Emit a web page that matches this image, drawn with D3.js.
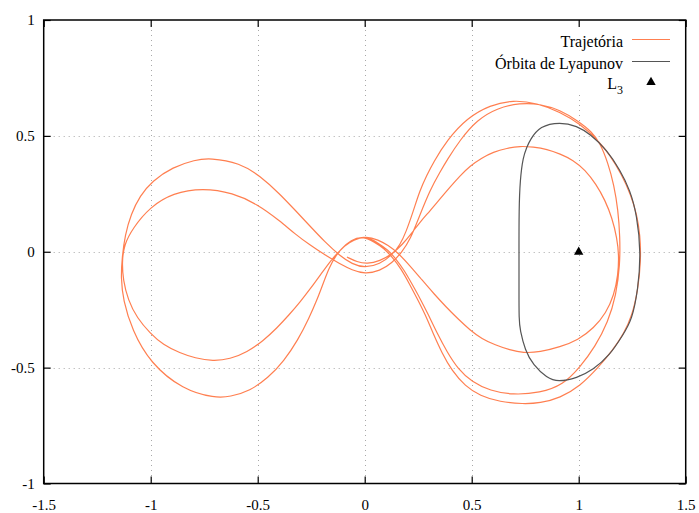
<!DOCTYPE html>
<html>
<head>
<meta charset="utf-8">
<script src="https://cdn.jsdelivr.net/npm/d3@7"></script>
<style>
  html, body { margin: 0; padding: 0; background: #fff; }
  svg { display: block; }
  text { font-family: "Liberation Serif", "DejaVu Serif", serif; fill: #000; }
</style>
</head>
<body>
<svg id="chart" width="699" height="513"></svg>
<script>
// Axis ticks
const xTicks = [-1.5, -1, -0.5, 0, 0.5, 1, 1.5];
const xTickLabels = ["-1.5", "-1", "-0.5", "0", "0.5", "1", "1.5"];
const yTicks = [-1, -0.5, 0, 0.5, 1];
const yTickLabels = ["-1", "-0.5", "0", "0.5", "1"];

// Legend entries
const legendLabels = ["Trajetória", "Órbita de Lyapunov", "L"];

// Libration point L3
const l3Point = [1.0, 0.0];

// Lyapunov periodic orbit around L3 (closed curve)
const lyapunovOrbit = [
  [0.721, -0.294], [0.721, -0.165], [0.721, 0.008], [0.721, 0.180],
  [0.726, 0.310], [0.740, 0.409], [0.758, 0.452], [0.772, 0.482],
  [0.819, 0.543], [0.913, 0.560], [0.992, 0.543], [1.053, 0.508],
  [1.132, 0.439], [1.193, 0.353], [1.240, 0.266], [1.272, 0.159],
  [1.291, -0.005], [1.277, -0.165], [1.249, -0.294], [1.207, -0.359],
  [1.146, -0.446], [1.067, -0.510], [0.992, -0.545], [0.903, -0.562],
  [0.852, -0.545], [0.787, -0.489], [0.749, -0.424], [0.726, -0.338]
];

// Trajectory (x, y) in rotating frame
const trajectory = [
  // leaves the centre, first pass around the right lobe
  [-0.083, -0.023], [-0.036, -0.044], [0.011, -0.053], [0.071, -0.040],
  [0.128, -0.010], [0.174, 0.029], [0.221, 0.081], [0.258, 0.128],
  [0.305, 0.176], [0.352, 0.228], [0.399, 0.279], [0.445, 0.327],
  [0.492, 0.370], [0.548, 0.405], [0.600, 0.430], [0.665, 0.447],
  [0.726, 0.456], [0.787, 0.452], [0.852, 0.443], [0.913, 0.422],
  [0.974, 0.396], [1.030, 0.353], [1.081, 0.292], [1.123, 0.223],
  [1.156, 0.146], [1.179, 0.059], [1.188, -0.014], [1.184, -0.100],
  [1.165, -0.187], [1.128, -0.264], [1.071, -0.329], [0.997, -0.381],
  [0.913, -0.411], [0.819, -0.433], [0.740, -0.437], [0.679, -0.424],
  [0.609, -0.402], [0.548, -0.376], [0.492, -0.338], [0.436, -0.290],
  [0.380, -0.238], [0.324, -0.182], [0.268, -0.122], [0.212, -0.061],
  [0.156, -0.005], [0.109, 0.029], [0.062, 0.051], [0.011, 0.068],
  [-0.059, 0.051], [-0.111, 0.012], [-0.157, -0.036], [-0.204, -0.096],
  [-0.251, -0.156], [-0.302, -0.217], [-0.354, -0.273], [-0.410, -0.329],
  [-0.475, -0.385], [-0.550, -0.433], [-0.629, -0.463], [-0.709, -0.472],
  [-0.793, -0.459], [-0.863, -0.437], [-0.942, -0.402], [-1.003, -0.351],
  [-1.064, -0.286], [-1.106, -0.208], [-1.129, -0.122], [-1.134, -0.044],
  [-1.125, 0.029], [-1.083, 0.103], [-1.003, 0.193], [-0.896, 0.254],
  [-0.756, 0.275], [-0.616, 0.254], [-0.503, 0.206], [-0.396, 0.133],
  [-0.326, 0.077], [-0.256, 0.029], [-0.186, -0.014], [-0.115, -0.053],
  [-0.059, -0.079], [0.001, -0.096], [0.071, -0.083], [0.128, -0.049],
  [0.174, -0.001], [0.212, 0.051],
  // second pass around the right lobe
  [0.258, 0.159], [0.305, 0.266], [0.352, 0.344], [0.385, 0.396],
  [0.445, 0.482], [0.525, 0.569], [0.618, 0.620], [0.726, 0.642],
  [0.819, 0.638], [0.913, 0.612], [0.997, 0.564], [1.062, 0.517],
  [1.100, 0.469], [1.137, 0.383], [1.165, 0.288], [1.184, 0.180],
  [1.193, 0.064], [1.193, -0.057], [1.175, -0.187], [1.137, -0.303],
  [1.076, -0.411], [1.007, -0.497], [0.927, -0.575], [0.819, -0.609],
  [0.693, -0.618], [0.586, -0.600], [0.501, -0.562], [0.436, -0.506],
  [0.385, -0.433], [0.338, -0.351], [0.296, -0.269], [0.258, -0.200],
  [0.221, -0.139], [0.184, -0.079], [0.146, -0.031], [0.109, 0.008],
  [0.062, 0.038], [0.006, 0.068], [-0.045, 0.055], [-0.097, 0.025],
  [-0.134, -0.014], [-0.167, -0.070], [-0.195, -0.139], [-0.223, -0.208],
  [-0.260, -0.286], [-0.312, -0.381], [-0.377, -0.471], [-0.452, -0.545],
  [-0.536, -0.600], [-0.629, -0.626], [-0.700, -0.631], [-0.849, -0.596],
  [-1.003, -0.480], [-1.087, -0.338], [-1.129, -0.208], [-1.139, -0.113],
  [-1.134, -0.027], [-1.120, 0.072], [-1.092, 0.163], [-1.050, 0.241],
  [-0.994, 0.305], [-0.896, 0.366], [-0.793, 0.396], [-0.723, 0.405],
  [-0.583, 0.383], [-0.489, 0.327], [-0.396, 0.249], [-0.326, 0.180],
  [-0.256, 0.111], [-0.186, 0.042], [-0.115, -0.018], [-0.059, -0.053],
  [0.001, -0.070], [0.071, -0.053], [0.128, -0.014], [0.165, 0.029],
  // third pass, shadowing the Lyapunov orbit
  [0.193, 0.085], [0.226, 0.172], [0.258, 0.266], [0.291, 0.331],
  [0.319, 0.383], [0.385, 0.482], [0.478, 0.577], [0.586, 0.633],
  [0.693, 0.655], [0.805, 0.642], [0.913, 0.603], [1.007, 0.551],
  [1.085, 0.486], [1.146, 0.418], [1.202, 0.331], [1.244, 0.245],
  [1.272, 0.159], [1.287, 0.072], [1.291, -0.036], [1.277, -0.165],
  [1.249, -0.277], [1.212, -0.351], [1.160, -0.424], [1.090, -0.501],
  [1.007, -0.579], [0.913, -0.631], [0.819, -0.653], [0.740, -0.657],
  [0.632, -0.648], [0.539, -0.622], [0.469, -0.579], [0.408, -0.514],
  [0.361, -0.437], [0.319, -0.351], [0.282, -0.269], [0.244, -0.200],
  [0.207, -0.135], [0.170, -0.074], [0.132, -0.027], [0.090, 0.016],
  [0.043, 0.042], [-0.008, 0.068], [-0.064, 0.051], [-0.111, 0.012],
  [-0.148, -0.031]
];

const colors = { trajectory: "#ff7f50", orbit: "#555555", grid: "#a8a8a8" };

const svg = d3.select("#chart");
const plot = { left: 43.7, right: 685.7, top: 20, bottom: 483.5 };

const x = d3.scaleLinear().domain([-1.5, 1.5]).range([plot.left, plot.right]);
const y = d3.scaleLinear().domain([-1, 1]).range([plot.bottom, plot.top]);

// Dotted grid
const grid = svg.append("g").attr("stroke", colors.grid).attr("stroke-width", 1)
  .attr("stroke-dasharray", "1,4");
grid.selectAll("line.v").data(xTicks.slice(1, -1)).join("line")
  .attr("x1", d => Math.round(x(d)) + 0.5).attr("x2", d => Math.round(x(d)) + 0.5)
  .attr("y1", plot.top).attr("y2", plot.bottom);
grid.selectAll("line.h").data(yTicks.slice(1, -1)).join("line")
  .attr("y1", d => Math.round(y(d)) + 0.5).attr("y2", d => Math.round(y(d)) + 0.5)
  .attr("x1", plot.left).attr("x2", plot.right);

// Opaque key area
svg.append("rect").attr("x", 488).attr("y", plot.top + 1)
  .attr("width", plot.right - 488 - 1).attr("height", 74).attr("fill", "#fff");

// Curves (smoothed B-splines through the sampled points)
const line = d3.line().x(d => x(d[0])).y(d => y(d[1])).curve(d3.curveBasis);
const closedLine = d3.line().x(d => x(d[0])).y(d => y(d[1])).curve(d3.curveBasisClosed);

svg.append("path").datum(trajectory).attr("d", line)
  .attr("fill", "none").attr("stroke", colors.trajectory).attr("stroke-width", 1.2);

svg.append("path").datum(lyapunovOrbit).attr("d", closedLine)
  .attr("fill", "none").attr("stroke", colors.orbit).attr("stroke-width", 1.2);

// Triangle marker
const tri = "M0,-5.2L4.7,3L-4.7,3Z";
svg.append("path").attr("d", tri)
  .attr("transform", `translate(${x(l3Point[0])},${y(l3Point[1])})`).attr("fill", "#000");

// Axes with inward ticks
const fmtX = (d, i) => xTickLabels[i];
const fmtY = (d, i) => yTickLabels[i];
const axes = svg.append("g");
axes.append("g").attr("transform", `translate(0,${plot.bottom})`)
  .call(d3.axisBottom(x).tickValues(xTicks).tickFormat(fmtX).tickSize(-7).tickPadding(16));
axes.append("g").attr("transform", `translate(${plot.left},0)`)
  .call(d3.axisLeft(y).tickValues(yTicks).tickFormat(fmtY).tickSize(-7).tickPadding(9));
axes.append("g").attr("transform", `translate(0,${plot.top})`)
  .call(d3.axisTop(x).tickValues(xTicks).tickFormat("").tickSize(-7));
axes.append("g").attr("transform", `translate(${plot.right},0)`)
  .call(d3.axisRight(y).tickValues(yTicks).tickFormat("").tickSize(-7));
axes.selectAll(".domain").remove();
axes.selectAll(".tick line").attr("stroke", "#000").attr("stroke-width", 1.2);
axes.selectAll(".tick text").attr("font-size", 15)
  .style("font-family", "'Liberation Serif', serif").attr("fill", "#000");

// Frame
svg.append("rect").attr("x", plot.left).attr("y", plot.top)
  .attr("width", plot.right - plot.left).attr("height", plot.bottom - plot.top)
  .attr("fill", "none").attr("stroke", "#000").attr("stroke-width", 1.5);

// Legend
const key = svg.append("g");
const rows = [46.5, 68.5, 90.5];
const textX = 623, lineX1 = 632, lineX2 = 670;
key.append("text").attr("x", textX).attr("y", rows[0]).attr("text-anchor", "end")
  .attr("font-size", 16).text(legendLabels[0]);
key.append("line").attr("x1", lineX1).attr("x2", lineX2).attr("y1", rows[0] - 7).attr("y2", rows[0] - 7)
  .attr("stroke", colors.trajectory).attr("stroke-width", 1.2);
key.append("text").attr("x", textX).attr("y", rows[1]).attr("text-anchor", "end")
  .attr("font-size", 16).text(legendLabels[1]);
key.append("line").attr("x1", lineX1).attr("x2", lineX2).attr("y1", rows[1] - 7).attr("y2", rows[1] - 7)
  .attr("stroke", colors.orbit).attr("stroke-width", 1.2);
const l3Text = key.append("text").attr("x", textX).attr("y", rows[2] - 2).attr("text-anchor", "end")
  .attr("font-size", 16);
l3Text.append("tspan").text(legendLabels[2]);
l3Text.append("tspan").attr("dy", 5).attr("font-size", 12).text("3");
key.append("path").attr("d", tri)
  .attr("transform", `translate(${(lineX1 + lineX2) / 2},${rows[2] - 8.5})`).attr("fill", "#000");
</script>
</body>
</html>
